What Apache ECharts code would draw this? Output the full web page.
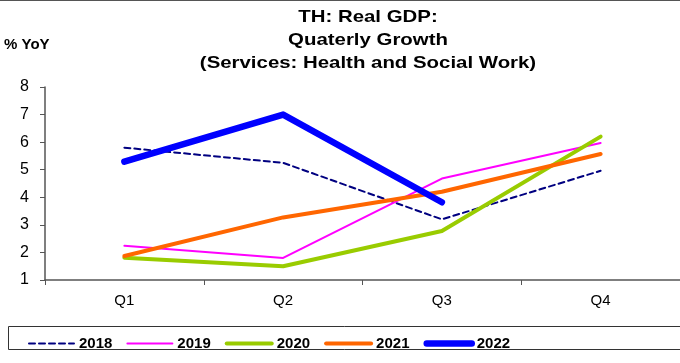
<!DOCTYPE html>
<html><head><meta charset="utf-8">
<script src="https://cdn.jsdelivr.net/npm/echarts@6/dist/echarts.min.js"></script>
<style>html,body{margin:0;padding:0;background:#fff}#c{width:680px;height:363px}</style>
</head><body><div id="c"></div>
<script>
var categories = ['Q1','Q2','Q3','Q4'];
var s2018 = [5.8, 5.25, 3.2, 4.96];
var s2019 = [2.24, 1.8, 4.68, 5.97];
var s2020 = [1.81, 1.5, 2.78, 6.2];
var s2021 = [1.87, 3.27, 4.2, 5.57];
var s2022 = [5.29, 7.0, 3.82, null];
var yTicks = [1,2,3,4,5,6,7,8];
var titleLines = ['TH: Real GDP:', 'Quaterly Growth', '(Services: Health and Social Work)'];

var chart = echarts.init(document.getElementById('c'));
var F = 'Liberation Sans, Arial, sans-serif';
var styles = {
  '2018': {color:'#000080', width:2, type:[6,4]},
  '2019': {color:'#ff00ff', width:2, type:'solid'},
  '2020': {color:'#99cc00', width:4, type:'solid'},
  '2021': {color:'#ff6600', width:4, type:'solid'},
  '2022': {color:'#0000ff', width:6.5, type:'solid'}
};
function ser(name, data){
  var s = styles[name];
  return {name:name, type:'line', data:data, symbol:'none', smooth:false,
    lineStyle:{color:s.color, width:s.width, type:s.type, cap:'round', join:'round'},
    itemStyle:{color:s.color}, connectNulls:false};
}
var graphics = [
  {type:'line', shape:{x1:0,y1:0.5,x2:680,y2:0.5}, style:{stroke:'#555', lineWidth:1}},
  {type:'text', x:4, y:45, style:{text:'% YoY', font:'bold 15px Liberation Sans, Arial', fill:'#000', textVerticalAlign:'middle'}},
  {type:'rect', shape:{x:8.5,y:326.5,width:680,height:23}, style:{fill:'none', stroke:'#333', lineWidth:1}}
];
titleLines.forEach(function(t,i){
  graphics.push({type:'text', x:368, y:17+i*23, scaleX:1.2, style:{text:t, font:'bold 17px Liberation Sans, Arial', fill:'#000', textAlign:'center', textVerticalAlign:'middle'}});
});
var legendData = ['2018','2019','2020','2021','2022'].map(function(n){
  var s = styles[n];
  return {name:n, lineStyle:{color:s.color, width:s.width, type:s.type, cap:'round'}, itemStyle:{opacity:0}};
});
chart.setOption({
  animation:false,
  graphic:graphics,
  legend:{left:23, top:331, itemWidth:45, itemHeight:12, itemGap:14,
    itemStyle:{opacity:0},
    textStyle:{fontFamily:F, fontWeight:'bold', fontSize:15, color:'#000'},
    data:legendData},
  grid:{left:45, right:-2, top:87, bottom:83},
  xAxis:{type:'category', data:categories, boundaryGap:true,
    axisLine:{lineStyle:{color:'#555', width:1.5}},
    axisTick:{show:true, length:5, lineStyle:{color:'#555'}},
    axisLabel:{fontFamily:F, fontSize:15, color:'#000', margin:13}},
  yAxis:{type:'value', min:1, max:8, interval:1,
    axisLine:{show:true, lineStyle:{color:'#555', width:1.5}},
    axisTick:{show:true, inside:false, length:5, lineStyle:{color:'#555'}},
    splitLine:{show:false},
    axisLabel:{fontFamily:F, fontSize:16, color:'#000', margin:16,
      formatter:function(v){return yTicks.indexOf(v)>=0 ? String(v) : '';}}},
  series:[
    ser('2018', s2018),
    ser('2019', s2019),
    ser('2020', s2020),
    ser('2021', s2021),
    ser('2022', s2022)
  ]
});
</script></body></html>
